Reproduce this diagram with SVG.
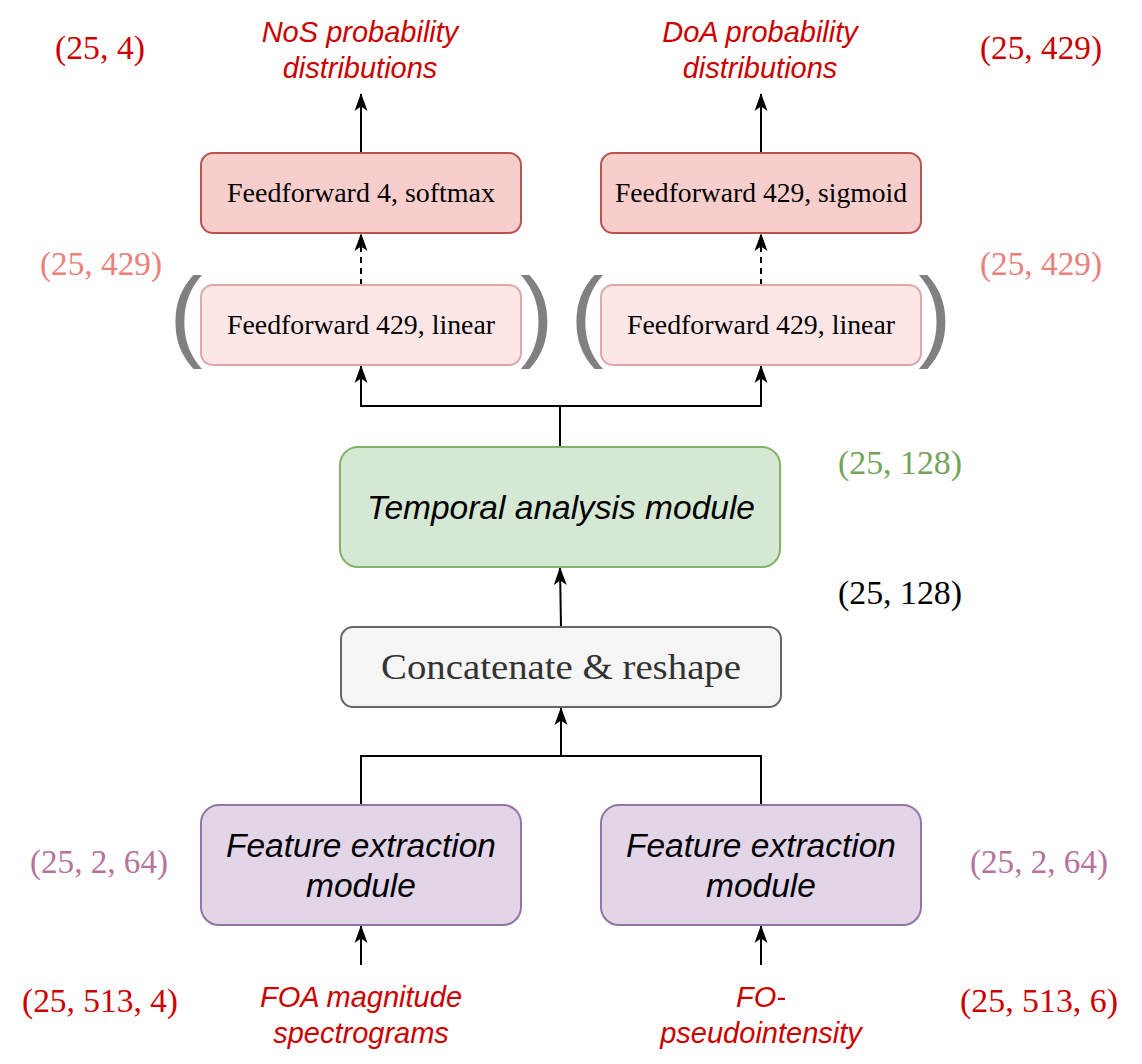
<svg xmlns="http://www.w3.org/2000/svg" width="1142" height="1064" viewBox="0 0 1142 1064">
<style>
.ff{fill:#f8cecc;stroke:#b85450;stroke-width:2}
.ffl{fill:#fce6e6;stroke:#dca9a7;stroke-width:2}
.tam{fill:#d5e8d4;stroke:#82b366;stroke-width:2}
.cat{fill:#f5f5f5;stroke:#666666;stroke-width:2}
.fem{fill:#e1d5e7;stroke:#9673a6;stroke-width:2}
.serif{font-family:"Liberation Serif","DejaVu Serif",serif}
.sans{font-family:"Liberation Sans",Arial,sans-serif;font-style:italic}
.lbl{font-size:27.5px;fill:#000}
.mod{font-size:33.5px;fill:#000}
.io{font-size:29px;fill:#cc0000}
.dim{font-size:33px}
.par{font-family:"Liberation Sans",Arial,sans-serif;font-size:100px;fill:#808080}
.edge{fill:none;stroke:#000;stroke-width:2}
</style>
<defs>
<marker id="arr" viewBox="0 0 18 14" refX="17" refY="7" markerWidth="18" markerHeight="14" markerUnits="userSpaceOnUse" orient="auto">
<path d="M0,0.5 L18,7 L0,13.5 L4.5,7 Z" fill="#000"/>
</marker>
</defs>

<g id="connectors">
<path class="edge" d="M361,153 V94" marker-end="url(#arr)"/>
<path class="edge" d="M761,153 V94" marker-end="url(#arr)"/>
<path class="edge" d="M361,285 V234" stroke-dasharray="6 5" marker-end="url(#arr)"/>
<path class="edge" d="M761,285 V234" stroke-dasharray="6 5" marker-end="url(#arr)"/>
<path class="edge" d="M560,447 V406 H361 V366" marker-end="url(#arr)"/>
<path class="edge" d="M560,406 H761 V366" marker-end="url(#arr)"/>
<path class="edge" d="M561,627 L560,568" marker-end="url(#arr)"/>
<path class="edge" d="M361,805 V756 H561 V708" marker-end="url(#arr)"/>
<path class="edge" d="M761,805 V756 H561"/>
<path class="edge" d="M361,965 V926" marker-end="url(#arr)"/>
<path class="edge" d="M761,965 V926" marker-end="url(#arr)"/>
</g>

<g id="nos-output">
<text class="sans io" text-anchor="middle" x="360" y="42">NoS probability</text>
<text class="sans io" text-anchor="middle" x="360" y="78">distributions</text>
</g>
<g id="doa-output">
<text class="sans io" text-anchor="middle" x="760" y="42">DoA probability</text>
<text class="sans io" text-anchor="middle" x="760" y="78">distributions</text>
</g>

<g id="ff-softmax">
<rect class="ff" x="201" y="153" width="320" height="80" rx="12"/>
<text class="serif lbl" text-anchor="middle" x="361" y="202" textLength="268" lengthAdjust="spacingAndGlyphs">Feedforward 4, softmax</text>
</g>
<g id="ff-sigmoid">
<rect class="ff" x="601" y="153" width="320" height="80" rx="12"/>
<text class="serif lbl" text-anchor="middle" x="761" y="202" textLength="292" lengthAdjust="spacingAndGlyphs">Feedforward 429, sigmoid</text>
</g>
<g id="ff-linear-left">
<rect class="ffl" x="201" y="285" width="320" height="80" rx="12"/>
<text class="serif lbl" text-anchor="middle" x="361" y="334" textLength="268" lengthAdjust="spacingAndGlyphs">Feedforward 429, linear</text>
</g>
<g id="ff-linear-right">
<rect class="ffl" x="601" y="285" width="320" height="80" rx="12"/>
<text class="serif lbl" text-anchor="middle" x="761" y="334" textLength="268" lengthAdjust="spacingAndGlyphs">Feedforward 429, linear</text>
</g>
<g id="brackets">
<text class="par" text-anchor="middle" x="186" y="348">(</text>
<text class="par" text-anchor="middle" x="537" y="348">)</text>
<text class="par" text-anchor="middle" x="587" y="348">(</text>
<text class="par" text-anchor="middle" x="935" y="348">)</text>
</g>

<g id="temporal">
<rect class="tam" x="340" y="447" width="440" height="120" rx="18"/>
<text class="sans mod" text-anchor="middle" x="561" y="519">Temporal analysis module</text>
</g>
<g id="concat">
<rect class="cat" x="341" y="627" width="440" height="80" rx="12"/>
<text class="serif" font-size="36px" fill="#333333" text-anchor="middle" x="561" y="679" textLength="360" lengthAdjust="spacingAndGlyphs">Concatenate &amp; reshape</text>
</g>
<g id="feat-left">
<rect class="fem" x="201" y="805" width="320" height="120" rx="18"/>
<text class="sans mod" text-anchor="middle" x="361" y="857">Feature extraction</text>
<text class="sans mod" text-anchor="middle" x="361" y="897">module</text>
</g>
<g id="feat-right">
<rect class="fem" x="601" y="805" width="320" height="120" rx="18"/>
<text class="sans mod" text-anchor="middle" x="761" y="857">Feature extraction</text>
<text class="sans mod" text-anchor="middle" x="761" y="897">module</text>
</g>
<g id="foa-input">
<text class="sans io" text-anchor="middle" x="361" y="1007">FOA magnitude</text>
<text class="sans io" text-anchor="middle" x="361" y="1043">spectrograms</text>
</g>
<g id="fo-input">
<text class="sans io" text-anchor="middle" x="761" y="1007">FO-</text>
<text class="sans io" text-anchor="middle" x="761" y="1043">pseudointensity</text>
</g>

<g id="dims">
<text class="serif dim" fill="#cc0000" x="55" y="59" textLength="90" lengthAdjust="spacingAndGlyphs">(25, 4)</text>
<text class="serif dim" fill="#cc0000" x="980" y="59" textLength="122" lengthAdjust="spacingAndGlyphs">(25, 429)</text>
<text class="serif dim" fill="#ea7f7c" x="40" y="275" textLength="122" lengthAdjust="spacingAndGlyphs">(25, 429)</text>
<text class="serif dim" fill="#ea7f7c" x="980" y="275" textLength="122" lengthAdjust="spacingAndGlyphs">(25, 429)</text>
<text class="serif dim" fill="#72a35a" x="838" y="474" textLength="124" lengthAdjust="spacingAndGlyphs">(25, 128)</text>
<text class="serif dim" fill="#000000" x="838" y="604" textLength="124" lengthAdjust="spacingAndGlyphs">(25, 128)</text>
<text class="serif dim" fill="#b5739d" x="30" y="873" textLength="138" lengthAdjust="spacingAndGlyphs">(25, 2, 64)</text>
<text class="serif dim" fill="#b5739d" x="970" y="873" textLength="138" lengthAdjust="spacingAndGlyphs">(25, 2, 64)</text>
<text class="serif dim" fill="#cc0000" x="22" y="1012" textLength="156" lengthAdjust="spacingAndGlyphs">(25, 513, 4)</text>
<text class="serif dim" fill="#cc0000" x="960" y="1012" textLength="158" lengthAdjust="spacingAndGlyphs">(25, 513, 6)</text>
</g>
</svg>
